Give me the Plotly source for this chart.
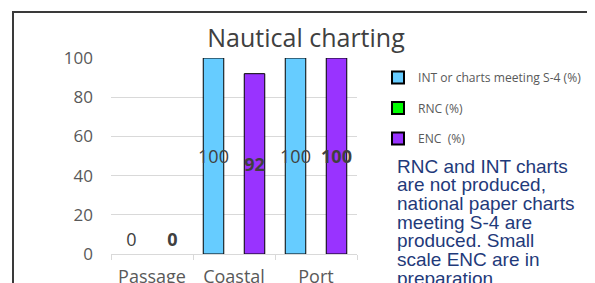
import plotly.graph_objects as go

categories = ["Passage", "Coastal", "Port"]
int_values = [0, 100, 100]
rnc_values = [None, None, None]
enc_values = [0, 92, 100]
series_names = ["INT or charts meeting S-4 (%)", "RNC (%)", "ENC  (%)"]
series_colors = ["#66CCFF", "#00FF00", "#9933FF"]
y_ticks = [0, 20, 40, 60, 80, 100]
title_text = "Nautical charting"
note_lines = ["RNC and INT charts", "are not produced,", "national paper charts",
              "meeting S-4 are", "produced. Small", "scale ENC are in", "preparation."]

# the page has an 8px body margin; work in page pixels and convert
OFF = 8
W, H = 595, 283
PL, PR, PT, PB = 111, 357, 58, 254          # plot area in page pixels
L, T = PL - OFF, PT - OFF
R = W - (PR - OFF)
B = H - (PB - OFF)
pw, ph = W - L - R, H - T - B

def px(x):
    return (x - OFF - L) / pw

def py(y):
    return (H - B - (y - OFF)) / ph

FONT = "Open Sans"


def bar_points(vals, bold=False):
    fmt = "<b>%d</b>" if bold else "%d"
    txt = [fmt % v if v is not None else "" for v in vals]
    pos = ["outside" if (v is not None and v == 0) else "inside" for v in vals]
    lw = [0 if (v is None or v == 0) else 1 for v in vals]
    return txt, pos, lw


fig = go.Figure()
for vals, name, color, bold in [(int_values, series_names[0], series_colors[0], False),
                                (rnc_values, series_names[1], series_colors[1], False),
                                (enc_values, series_names[2], series_colors[2], True)]:
    txt, pos, lw = bar_points(vals, bold)
    fig.add_trace(go.Bar(
        x=categories, y=vals, name=name, showlegend=False,
        marker=dict(color=color, line=dict(color="#000000", width=lw)),
        text=txt, textposition=pos,
        insidetextanchor="middle", constraintext="none", textangle=0,
        textfont=dict(family=FONT, size=18, color="#404040"),
    ))

# legend swatches (small outlined squares as in the reference)
for name, color in zip(series_names, series_colors):
    fig.add_trace(go.Scatter(
        x=[None], y=[None], mode="markers", name=name, legendgroup=name,
        marker=dict(symbol="square", size=8, color=color,
                    line=dict(color="#000000", width=1)),
        hoverinfo="skip",
    ))

fig.update_layout(
    width=W, height=H,
    margin=dict(l=L, r=R, t=T, b=B, autoexpand=False),
    paper_bgcolor="white", plot_bgcolor="white",
    barmode="group", bargap=0.25, bargroupgap=0,
    font=dict(family=FONT, color="#595959"),
    title=dict(text=title_text, x=(306 - OFF) / W, xref="container", xanchor="center",
               y=1 - (38 - OFF) / H, yref="container", yanchor="middle",
               font=dict(family=FONT, size=25, color="#404040")),
    legend=dict(x=px(378), y=py(63), xanchor="left", yanchor="top",
                font=dict(family=FONT, size=12.1, color="#595959"),
                tracegroupgap=11.5, bgcolor="rgba(0,0,0,0)",
                itemwidth=30, itemsizing="constant"),
    showlegend=True,
)
fig.update_yaxes(range=[0, 100], tickvals=y_ticks, showgrid=True,
                 gridcolor="#D9D9D9", gridwidth=1, zeroline=False,
                 showline=False, ticks="", ticklabelstandoff=17, automargin=False,
                 tickfont=dict(family=FONT, size=17, color="#595959"))
fig.update_xaxes(categoryorder="array", categoryarray=categories,
                 showline=True, linecolor="#D9D9D9", linewidth=1,
                 ticks="outside", tickson="boundaries", ticklen=5,
                 tickcolor="#D9D9D9", automargin=False, ticklabelstandoff=6,
                 tickfont=dict(family=FONT, size=18, color="#595959"))

for i, line in enumerate(note_lines):
    fig.add_annotation(text=line, xref="paper", yref="paper",
                       x=px(395), y=py(166 + 18.7 * i), xanchor="left", yanchor="middle",
                       align="left", showarrow=False,
                       font=dict(family="Liberation Sans", size=19, color="#1F3A7A"))

fig.add_shape(type="rect", xref="paper", yref="paper",
              x0=px(13), x1=px(620), y0=py(300), y1=py(12),
              line=dict(color="#3A3A3A", width=2), layer="above")

fig.write_html("out.html")
